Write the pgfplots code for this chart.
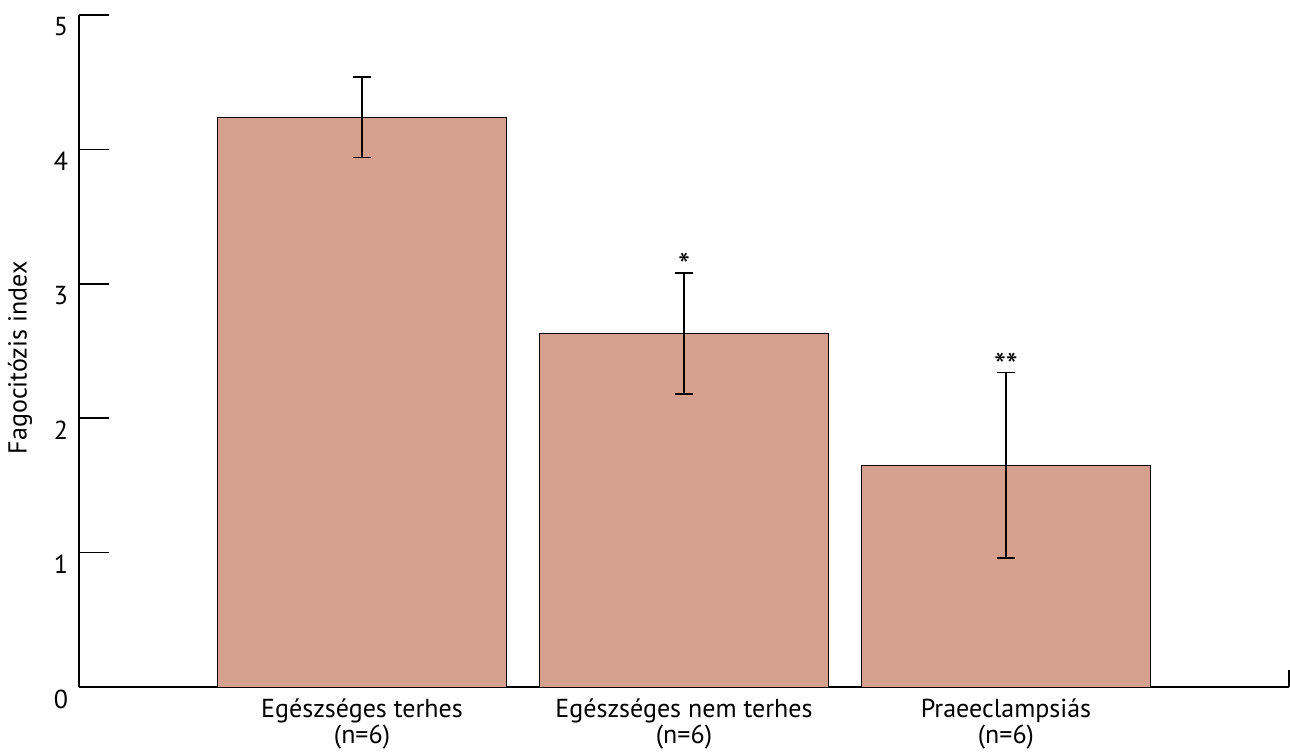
\documentclass[border=0pt]{standalone}
\usepackage{pgfplots}
\pgfplotsset{compat=1.18}
\usepackage{fontspec}
\setmainfont{PT Sans}
\definecolor{barfill}{RGB}{213,161,142}
\begin{document}
\begin{tikzpicture}
\path[use as bounding box] (-39.5pt,-32pt) rectangle (605.5pt,343.5pt);
\begin{axis}[
  at={(0,0)}, anchor=south west,
  scale only axis,
  width=605pt, height=336pt,
  xmin=0.121, xmax=3.879,
  ymin=0, ymax=5,
  axis x line=bottom, axis y line=left,
  axis line style={-, line width=0.75pt},
  ytick={0,1,2,3,4,5},
  major tick length=15pt,
  tick align=inside,
  tick style={line width=0.75pt, black},
  yticklabel style={font=\fontsize{13}{15}\selectfont, anchor=east, yshift=-6pt, xshift=-2pt},
  /pgf/number format/assume math mode=true,
  xtick={1,2,3},
  xtick style={draw=none},
  xticklabels={{Egészséges terhes\\(n=6)},{Egészséges nem terhes\\(n=6)},{Praeeclampsiás\\(n=6)}},
  xticklabel style={font=\fontsize{13}{11.5}\selectfont, align=center, yshift=12.5pt},
  ylabel={Fagocitózis index},
  ylabel style={font=\fontsize{13}{15}\selectfont, at={(axis description cs:0,0.49)}, anchor=center, yshift=29.5pt},
  ybar, bar width=0.9,
  clip=false,
]
\addplot[fill=barfill, draw=black, line width=0.5pt,
  error bars/.cd, y dir=both, y explicit,
  error bar style={line width=0.75pt, black},
  error mark options={line width=0.75pt, mark size=4.5pt, rotate=90}]
  table[x=x, y=y, y error=e] {
  x y e
  1 4.24 0.30
  2 2.63 0.45
  3 1.65 0.69
};
\node[font=\fontsize{17}{15}\selectfont, anchor=south, inner sep=1pt, yshift=-4pt] at (axis cs:2,3.09) {*};
\node[font=\fontsize{17}{15}\selectfont, anchor=south, inner sep=1pt, yshift=-4pt] at (axis cs:3,2.345) {**};
\draw[line width=0.75pt] (axis cs:3.879,0) -- ++(0pt,8.5pt);
\end{axis}
\end{tikzpicture}
\end{document}
